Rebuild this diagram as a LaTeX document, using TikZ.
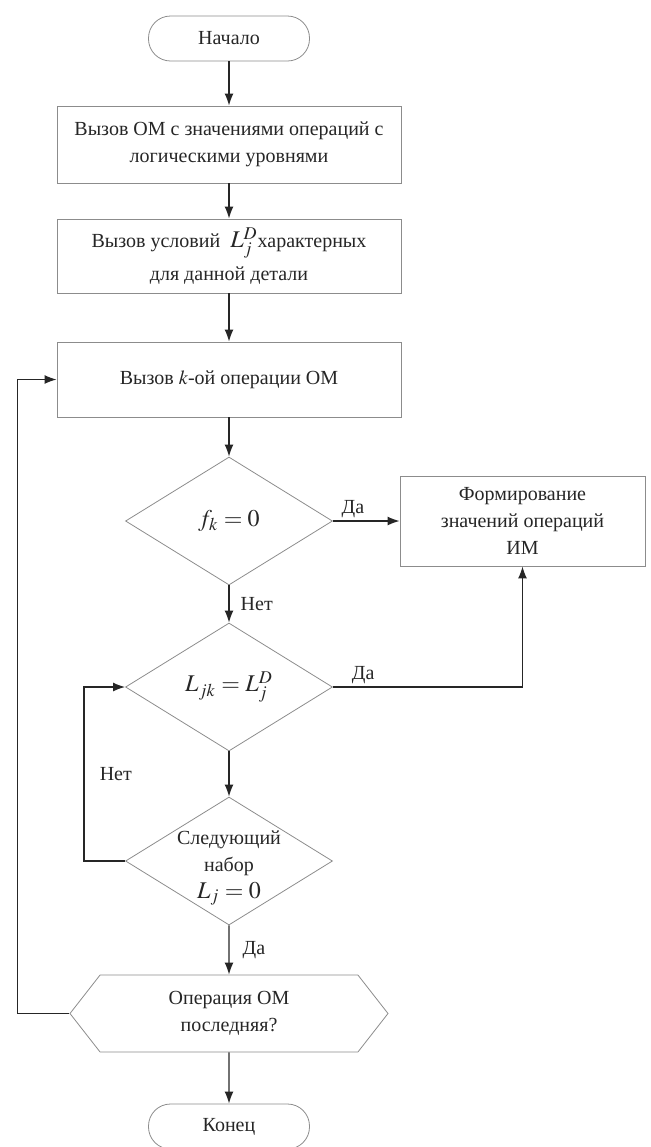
\documentclass[tikz,border=0pt]{standalone}
\usepackage{mathptmx}
\usepackage{fontspec}
\setmainfont{Liberation Serif}
\usetikzlibrary{arrows.meta,shapes.geometric,shapes.symbols}

\begin{document}
\begin{tikzpicture}[
    x=0.5pt, y=-0.5pt,
    every node/.style={font=\fontsize{10}{13.5}\selectfont, text=black!85},
    terminal/.style={rectangle, draw=black!45, rounded corners=11pt, minimum width=80.5pt, minimum height=22.5pt},
    process/.style={rectangle, draw=black!45, align=center, minimum width=172pt, minimum height=37.5pt, inner sep=2pt},
    decision/.style={diamond, draw=black!45, minimum width=103.5pt, minimum height=64pt, inner sep=0pt},
    loopcheck/.style={signal, signal to=west and east, signal pointer angle=104, draw=black!45, align=center, minimum width=159pt, minimum height=38.5pt},
    flow/.style={-{Latex[length=6pt,width=4.5pt]}, line width=0.7pt, draw=black!85},
    answer/.style={inner sep=1.5pt}
]
\useasboundingbox (0,0) rectangle (650,1147);

% --- main column ---
\node[terminal] (start) at (229,38.5) {Начало};
\node[process, minimum height=38.5pt] (callOM) at (229,144.5) {Вызов ОМ с значениями операций с\\логическими уровнями};
\node[process, minimum height=37pt] (callCond) at (229,256) {Вызов условий \ {\large$L^{D}_{j}$}характерных\\[3pt]для данной детали};
\node[process] (callOp) at (229,379.5) {Вызов $k$-ой операции ОМ};
\node[decision] (chkF) at (229,521) {\large$f_k = 0$};
\node[process, minimum width=122.5pt, minimum height=45pt] (formIM) at (522.5,521) {Формирование\\значений операций\\ИМ};
\node[decision] (chkL) at (229,687) {\large$L_{jk} = L^{D}_{j}$};
\node[decision] (chkNext) at (229,861) {};
\node[align=center] (nextTxt) at (229,868) {Следующий\\набор\\{\large$L_j = 0$}};
\node[loopcheck] (lastOp) at (229,1013.5) {Операция ОМ\\последняя?};
\node[terminal] (stop) at (229,1126.5) {Конец};

% --- connectors ---
\draw[flow] (start) -- (callOM);
\draw[flow] (callOM) -- (callCond);
\draw[flow] (callCond) -- (callOp);
\draw[flow] (callOp) -- (chkF);
\draw[flow] (chkF) -- node[answer, pos=0.3, above] {Да} (formIM);
\draw[flow] (chkF) -- node[answer, right, xshift=4pt] {Нет} (chkL);
\draw[flow] (chkL.east) -| node[answer, pos=0.08, above] {Да} (formIM.south);
\draw[flow] (chkL) -- (chkNext);
\draw[flow] (chkNext.west) -- ++(-41,0) |- node[answer, pos=0.25, right, xshift=6pt] {Нет} (chkL.west);
\draw[flow] (chkNext) -- node[answer, right, xshift=5pt] {Да} (lastOp);
\draw[flow] (lastOp.west) -- ++(-52,0) |- (callOp.west);
\draw[flow] (lastOp) -- (stop);

\end{tikzpicture}
\end{document}
